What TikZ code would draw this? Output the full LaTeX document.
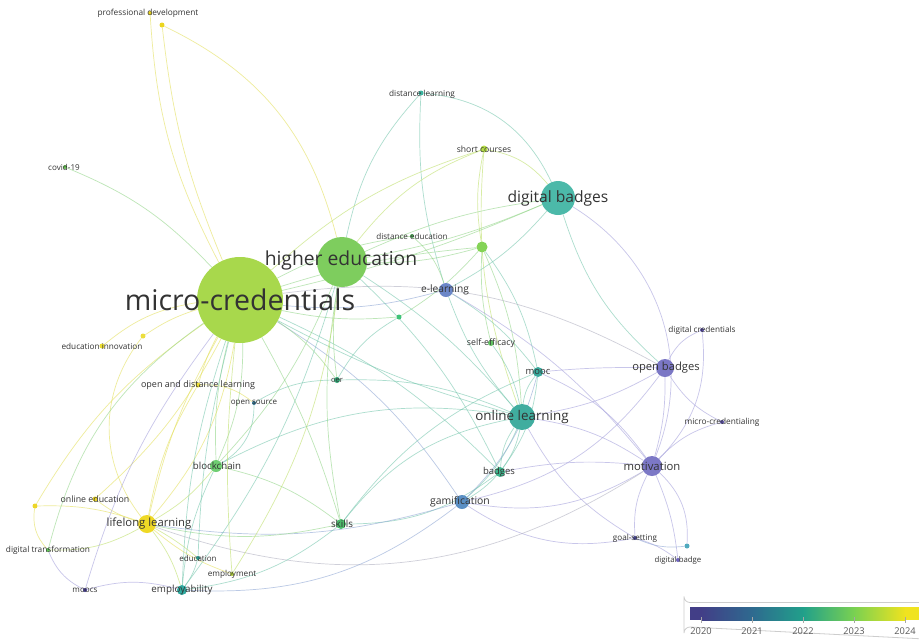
\documentclass[tikz,border=0pt]{standalone}
\usepackage{fontspec}
\setmainfont{Open Sans}
\usetikzlibrary{backgrounds}
\pgfdeclarelayer{back0}
\pgfsetlayers{back0,background,main}
\definecolor{cY}{HTML}{E4E05A}
\definecolor{cYG}{HTML}{BEE06A}
\definecolor{cG}{HTML}{92D688}
\definecolor{cT}{HTML}{76C7AE}
\definecolor{cB}{HTML}{8EA6D4}
\definecolor{cP}{HTML}{A4A0DC}
\definecolor{cGr}{HTML}{B0B0C0}
\definecolor{txt}{HTML}{333333}
\tikzset{
  dot/.style={circle, inner sep=0pt, draw=none},
  lab/.style={text=txt, inner sep=0pt},
  e/.style={line width=0.7pt, opacity=0.6},
}
\newcommand{\fs}[1]{\fontsize{#1}{#1}\selectfont}
\begin{document}
\begin{tikzpicture}[x=1pt,y=-1pt]
\useasboundingbox (0,0) rectangle (919,641);
\begin{pgfonlayer}{back0}
\fill[white] (0,0) rectangle (919,641);
\end{pgfonlayer}
% nodes
\node[dot, minimum size=86pt, fill={rgb,255:red,168;green,216;blue,76}] (mc) at (240,300) {};
\node[dot, minimum size=50pt, fill={rgb,255:red,126;green,205;blue,94}] (he) at (342,262) {};
\node[dot, minimum size=34pt, fill={rgb,255:red,76;green,185;blue,169}] (db) at (558,198) {};
\node[dot, minimum size=26pt, fill={rgb,255:red,64;green,173;blue,159}] (ol) at (522,417) {};
\node[dot, minimum size=20pt, fill={rgb,255:red,124;green,120;blue,198}] (mot) at (652,466) {};
\node[dot, minimum size=18pt, fill={rgb,255:red,123;green,119;blue,197}] (ob) at (665,368) {};
\node[dot, minimum size=18pt, fill={rgb,255:red,239;green,217;blue,37}] (ll) at (147,524) {};
\node[dot, minimum size=14pt, fill={rgb,255:red,90;green,143;blue,196}] (gam) at (462,502) {};
\node[dot, minimum size=14pt, fill={rgb,255:red,107;green,135;blue,200}] (el) at (446,290) {};
\node[dot, minimum size=12pt, fill={rgb,255:red,111;green,206;blue,114}] (bc) at (216,466) {};
\node[dot, minimum size=10pt, fill={rgb,255:red,77;green,189;blue,108}] (sk) at (341,524) {};
\node[dot, minimum size=10pt, fill={rgb,255:red,61;green,180;blue,140}] (bd) at (500,472) {};
\node[dot, minimum size=10pt, fill={rgb,255:red,57;green,169;blue,156}] (mooc) at (538,372) {};
\node[dot, minimum size=10pt, fill={rgb,255:red,47;green,170;blue,160}] (emp) at (182,590) {};
\node[dot, minimum size=11pt, fill={rgb,255:red,132;green,211;blue,86}] (g1) at (482,247) {};
\node[dot, minimum size=5pt, fill={rgb,255:red,63;green,195;blue,120}] (g2) at (399,317) {};
\node[dot, minimum size=5pt, fill={rgb,255:red,236;green,222;blue,60}] (y1) at (143,336) {};
\node[dot, minimum size=4pt, fill={rgb,255:red,236;green,214;blue,30}] (pd) at (150,13) {};
\node[dot, minimum size=5pt, fill={rgb,255:red,236;green,214;blue,30}] (pd2) at (162,25) {};
\node[dot, minimum size=4pt, fill={rgb,255:red,100;green,190;blue,80}] (cov) at (65,167) {};
\node[dot, minimum size=5pt, fill={rgb,255:red,60;green,180;blue,160}] (dl) at (421,93) {};
\node[dot, minimum size=7pt, fill={rgb,255:red,180;green,220;blue,70}] (sc) at (484,149) {};
\node[dot, minimum size=4pt, fill={rgb,255:red,80;green,180;blue,90}] (de) at (412,236) {};
\node[dot, minimum size=6pt, fill={rgb,255:red,100;green,200;blue,100}] (se) at (491,343) {};
\node[dot, minimum size=4pt, fill={rgb,255:red,90;green,80;blue,170}] (dc) at (702,330) {};
\node[dot, minimum size=4pt, fill={rgb,255:red,90;green,80;blue,170}] (mcr) at (722,422) {};
\node[dot, minimum size=4pt, fill={rgb,255:red,70;green,70;blue,150}] (gs) at (635,538) {};
\node[dot, minimum size=4pt, fill={rgb,255:red,110;green,100;blue,190}] (dbg) at (678,560) {};
\node[dot, minimum size=5pt, fill={rgb,255:red,80;green,170;blue,190}] (t1) at (687,546) {};
\node[dot, minimum size=5pt, fill={rgb,255:red,236;green,222;blue,50}] (ei) at (102,346) {};
\node[dot, minimum size=5pt, fill={rgb,255:red,236;green,222;blue,50}] (odl) at (198,385) {};
\node[dot, minimum size=4pt, fill={rgb,255:red,50;green,120;blue,150}] (os) at (254,403) {};
\node[dot, minimum size=6pt, fill={rgb,255:red,50;green,170;blue,120}] (oer) at (337,380) {};
\node[dot, minimum size=5pt, fill={rgb,255:red,236;green,214;blue,40}] (oe) at (95,499) {};
\node[dot, minimum size=5pt, fill={rgb,255:red,236;green,214;blue,40}] (y2) at (35,506) {};
\node[dot, minimum size=4pt, fill={rgb,255:red,100;green,200;blue,90}] (dt) at (48,550) {};
\node[dot, minimum size=4pt, fill={rgb,255:red,40;green,150;blue,140}] (edu) at (198,558) {};
\node[dot, minimum size=4pt, fill={rgb,255:red,180;green,210;blue,60}] (empl) at (232,574) {};
\node[dot, minimum size=4pt, fill={rgb,255:red,70;green,60;blue,150}] (moocs) at (85,590) {};
% edges
\begin{scope}[on background layer]
\draw[e, cY] (pd) to[bend right=12] (mc);
\draw[e, cY] (pd2) to[bend right=8] (mc);
\draw[e, cY] (pd2) to[bend left=25] (he);
\draw[e, cG] (cov) to[bend left=12] (mc);
\draw[e, cT] (dl) to[bend right=15] (he);
\draw[e, cT] (dl) to[bend left=30] (db);
\draw[e, cT] (dl) to[bend right=10] (el);
\draw[e, cYG] (sc) to[bend right=15] (he);
\draw[e, cYG] (sc) to[bend right=12] (mc);
\draw[e, cYG] (sc) to[bend left=20] (db);
\draw[e, cYG] (sc) to[bend right=10] (g1);
\draw[e, cYG] (sc) to[bend right=12] (ol);
\draw[e, cG] (he) to[bend left=8] (db);
\draw[e, cG] (he) to[bend right=6] (db);
\draw[e, cG] (mc) to[bend right=5] (db);
\draw[e, cG] (mc) to[bend left=6] (g1);
\draw[e, cG] (he) to[bend right=8] (g1);
\draw[e, cG] (de) to[bend right=10] (mc);
\draw[e, cG] (de) to[bend left=15] (el);
\draw[e, cB] (el) to[bend left=10] (mc);
\draw[e, cT] (el) to[bend right=10] (db);
\draw[e, cT] (el) to[bend right=10] (ol);
\draw[e, cT] (el) to[bend left=10] (mooc);
\draw[e, cG] (g1) to[bend left=10] (ol);
\draw[e, cG] (g1) to[bend right=8] (se);
\draw[e, cT] (g1) to[bend left=12] (mooc);
\draw[e, cG] (g2) to[bend left=8] (mc);
\draw[e, cG] (g2) to[bend right=8] (g1);
\draw[e, cT] (g2) to[bend right=15] (oer);
\draw[e, cGr] (mc) to[bend left=18] (ob);
\draw[e, cT] (db) to[bend right=15] (ob);
\draw[e, cP] (db) to[bend left=40] (mot);
\draw[e, cP] (ob) to[bend left=20] (dc);
\draw[e, cP] (ob) to[bend right=15] (mcr);
\draw[e, cP] (ob) to[bend left=8] (mot);
\draw[e, cP] (ob) to[bend right=3] (mooc);
\draw[e, cP] (ob) to[bend left=10] (ol);
\draw[e, cP] (mot) to[bend right=25] (dc);
\draw[e, cP] (mot) to[bend left=15] (mcr);
\draw[e, cP] (mot) to[bend right=15] (gs);
\draw[e, cP] (mot) to[bend left=8] (dbg);
\draw[e, cP] (mot) to[bend left=25] (t1);
\draw[e, cP] (mot) to[bend right=12] (ol);
\draw[e, cP] (mot) to[bend right=8] (bd);
\draw[e, cP] (mot) to[bend left=20] (gam);
\draw[e, cP] (gam) to[bend right=20] (ob);
\draw[e, cP] (mot) to[bend right=15] (mooc);
\draw[e, cP] (mot) to[bend right=10] (el);
\draw[e, cP] (gs) to[bend left=22] (gam);
\draw[e, cP] (gs) to[bend left=15] (ol);
\draw[e, cP] (dbg) to[bend right=10] (gs);
\draw[e, cB] (t1) to[bend left=15] (gs);
\draw[e, cT] (ol) to[bend left=15] (mooc);
\draw[e, cT] (ol) to[bend right=15] (bd);
\draw[e, cT] (ol) to[bend left=12] (bd);
\draw[e, cT] (ol) to[bend right=12] (se);
\draw[e, cT] (ol) to[bend left=12] (gam);
\draw[e, cT] (ol) to[bend right=8] (he);
\draw[e, cT] (ol) to[bend left=6] (mc);
\draw[e, cT] (ol) to[bend right=20] (sk);
\draw[e, cT] (ol) to[bend right=18] (bc);
\draw[e, cT] (bd) to[bend left=8] (gam);
\draw[e, cT] (bd) to[bend right=10] (mc);
\draw[e, cT] (bd) to[bend left=18] (sk);
\draw[e, cT] (bd) to[bend right=10] (he);
\draw[e, cT] (bd) to[bend right=15] (mooc);
\draw[e, cB] (gam) to[bend right=12] (mc);
\draw[e, cB] (gam) to[bend left=12] (ll);
\draw[e, cGr] (ll) to[bend right=26] (mot);
\draw[e, cB] (gam) to[bend left=20] (emp);
\draw[e, cB] (gam) to[bend right=15] (mooc);
\draw[e, cG] (sk) to[bend right=6] (mc);
\draw[e, cG] (sk) to[bend left=10] (he);
\draw[e, cG] (sk) to[bend left=12] (ll);
\draw[e, cT] (sk) to[bend left=15] (emp);
\draw[e, cT] (sk) to[bend left=15] (mooc);
\draw[e, cG] (sk) to[bend right=12] (bc);
\draw[e, cG] (oer) to[bend right=10] (mc);
\draw[e, cG] (oer) to[bend left=8] (he);
\draw[e, cT] (oer) to[bend right=15] (os);
\draw[e, cT] (oer) to[bend left=12] (ol);
\draw[e, cT] (os) to[bend left=30] (bc);
\draw[e, cG] (bc) to[bend left=8] (mc);
\draw[e, cG] (bc) to[bend right=12] (mc);
\draw[e, cG] (bc) to[bend right=10] (he);
\draw[e, cT] (bc) to[bend right=10] (emp);
\draw[e, cYG] (bc) to[bend left=10] (ll);
\draw[e, cY] (odl) to[bend left=6] (mc);
\draw[e, cY] (odl) to[bend right=10] (ll);
\draw[e, cY] (odl) to[bend left=20] (os);
\draw[e, cY] (ei) to[bend left=15] (mc);
\draw[e, cY] (y1) to[bend left=8] (mc);
\draw[e, cY] (y1) to[bend right=38] (ll);
\draw[e, cY] (ll) to[bend left=8] (mc);
\draw[e, cY] (ll) to[bend right=15] (mc);
\draw[e, cY] (ll) to[bend left=10] (oe);
\draw[e, cY] (ll) to[bend right=10] (y2);
\draw[e, cYG] (ll) to[bend left=10] (emp);
\draw[e, cYG] (ll) to[bend left=5] (edu);
\draw[e, cY] (ll) to[bend right=10] (empl);
\draw[e, cYG] (ll) to[bend left=15] (dt);
\draw[e, cY] (oe) to[bend right=10] (mc);
\draw[e, cY] (y2) to[bend left=12] (mc);
\draw[e, cY] (y2) to[bend right=25] (dt);
\draw[e, cG] (dt) to[bend left=20] (mc);
\draw[e, cP] (dt) to[bend right=20] (moocs);
\draw[e, cP] (moocs) to[bend left=15] (emp);
\draw[e, cP] (moocs) to[bend left=10] (mc);
\draw[e, cT] (emp) to[bend left=8] (mc);
\draw[e, cT] (emp) to[bend right=10] (he);
\draw[e, cT] (emp) to[bend right=10] (edu);
\draw[e, cT] (edu) to[bend left=6] (mc);
\draw[e, cYG] (empl) to[bend left=5] (mc);
\draw[e, cYG] (empl) to[bend right=12] (he);
\end{scope}
% labels
\node[lab, font=\fs{28.5}] (l-mc) at (240,300) {micro-credentials};
\node[lab, font=\fs{19.3}] (l-he) at (341,260) {higher education};
\node[lab, font=\fs{15.6}] (l-db) at (558,198) {digital badges};
\node[lab, font=\fs{13.4}] (l-ol) at (522,417) {online learning};
\node[lab, font=\fs{11.3}] (l-mot) at (652,466) {motivation};
\node[lab, font=\fs{11.2}] (l-ob) at (666,368) {open badges};
\node[lab, font=\fs{11.3}] (l-ll) at (149,524) {lifelong learning};
\node[lab, font=\fs{10.4}] (l-gam) at (460,502) {gamification};
\node[lab, font=\fs{10.2}] (l-el) at (445,290) {e-learning};
\node[lab, font=\fs{9.7}] (l-bc) at (217,466) {blockchain};
\node[lab, font=\fs{9.8}] (l-sk) at (342,524) {skills};
\node[lab, font=\fs{9.5}] (l-bd) at (499,472) {badges};
\node[lab, font=\fs{9.4}] (l-mooc) at (538,372) {mooc};
\node[lab, font=\fs{9.8}] (l-emp) at (182,590) {employability};
\node[lab, font=\fs{8.3}] (l-pd) at (148,13) {professional development};
\node[lab, font=\fs{8.1}] (l-cov) at (64,167) {covid-19};
\node[lab, font=\fs{8.25}] (l-dl) at (422,94) {distance learning};
\node[lab, font=\fs{8.6}] (l-sc) at (484,149) {short courses};
\node[lab, font=\fs{8.1}] (l-de) at (412,236) {distance education};
\node[lab, font=\fs{8.8}] (l-se) at (491,343) {self-efficacy};
\node[lab, font=\fs{8.2}] (l-dc) at (702,330) {digital credentials};
\node[lab, font=\fs{8.3}] (l-mcr) at (722,422) {micro-credentialing};
\node[lab, font=\fs{8.1}] (l-gs) at (635,538) {goal-setting};
\node[lab, font=\fs{7.8}] (l-dbg) at (678,560) {digital badge};
\node[lab, font=\fs{8.2}] (l-ei) at (102,346) {education innovation};
\node[lab, font=\fs{9.0}] (l-odl) at (198,385) {open and distance learning};
\node[lab, font=\fs{8.0}] (l-os) at (254,403) {open source};
\node[lab, font=\fs{7.6}] (l-oer) at (337,380) {oer};
\node[lab, font=\fs{8.8}] (l-oe) at (95,499) {online education};
\node[lab, font=\fs{8.3}] (l-dt) at (48,550) {digital transformation};
\node[lab, font=\fs{8.0}] (l-edu) at (198,558) {education};
\node[lab, font=\fs{8.2}] (l-empl) at (232,574) {employment};
\node[lab, font=\fs{8.1}] (l-moocs) at (85,590) {moocs};
% legend
\draw[draw={rgb,255:red,205;green,205;blue,205}, line width=0.8pt, fill=white]
  (925,602.5) -- (690,602.5) arc[start angle=90, end angle=180, radius=6] -- (684,633) arc[start angle=180, end angle=270, radius=6] -- (925,639);
\fill[color={rgb,255:red,66;green,62;blue,135}] (690,607) rectangle (701.5,620);
\shade[left color={rgb,255:red,66;green,62;blue,135}, right color={rgb,255:red,46;green,106;blue,143}] (701,607) rectangle (752.5,620);
\shade[left color={rgb,255:red,46;green,106;blue,143}, right color={rgb,255:red,33;green,160;blue,138}] (752,607) rectangle (803.5,620);
\shade[left color={rgb,255:red,33;green,160;blue,138}, right color={rgb,255:red,122;green,209;blue,81}] (803,607) rectangle (854.5,620);
\shade[left color={rgb,255:red,122;green,209;blue,81}, right color={rgb,255:red,240;green,227;blue,31}] (854,607) rectangle (905.5,620);
\fill[color={rgb,255:red,240;green,227;blue,31}] (905,607) rectangle (925,620);
\foreach \x/\yr in {701/2020, 752/2021, 803/2022, 854/2023, 905/2024} {
  \draw[gray!70, line width=0.6pt] (\x,617) -- (\x,623);
  \node[lab, text=black!65, font=\fs{9.3}] at (\x,631) {\yr};
}
\end{tikzpicture}
\end{document}
